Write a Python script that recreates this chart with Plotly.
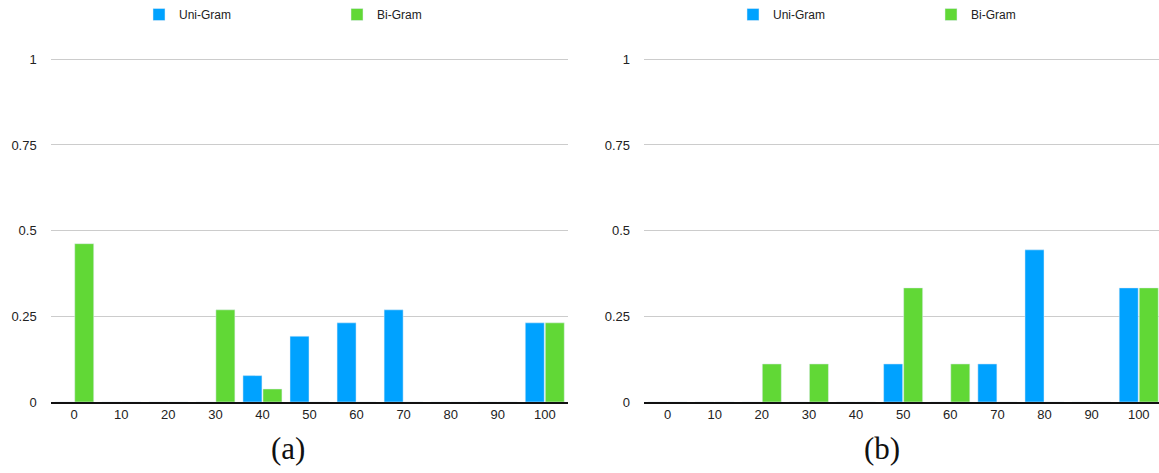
import plotly.graph_objects as go

# Percent bins shared by both panels
bins = ["0", "10", "20", "30", "40", "50", "60", "70", "80", "90", "100"]

# Panel (a)
uni_a = [0, 0, 0, 0, 0.077, 0.192, 0.231, 0.269, 0, 0, 0.231]
bi_a = [0.462, 0, 0, 0.269, 0.038, 0, 0, 0, 0, 0, 0.231]

# Panel (b)
uni_b = [0, 0, 0, 0, 0, 0.111, 0, 0.111, 0.444, 0, 0.333]
bi_b = [0, 0, 0.111, 0.111, 0, 0.333, 0.111, 0, 0, 0, 0.333]

y_ticks = [0, 0.25, 0.5, 0.75, 1]
y_tick_text = ["0", "0.25", "0.5", "0.75", "1"]

BLUE = "#00A2FF"
GREEN = "#61D836"
W, H = 1159, 473

fig = go.Figure()

fig.add_trace(go.Bar(x=bins, y=uni_a, name="Uni-Gram", marker_color=BLUE,
                     xaxis="x", yaxis="y", legend="legend"))
fig.add_trace(go.Bar(x=bins, y=bi_a, name="Bi-Gram", marker_color=GREEN,
                     xaxis="x", yaxis="y", legend="legend"))
fig.add_trace(go.Bar(x=bins, y=uni_b, name="Uni-Gram", marker_color=BLUE,
                     xaxis="x2", yaxis="y2", legend="legend2"))
fig.add_trace(go.Bar(x=bins, y=bi_b, name="Bi-Gram", marker_color=GREEN,
                     xaxis="x2", yaxis="y2", legend="legend2"))

tick_font = dict(family="Liberation Sans, Arial, sans-serif", size=13, color="#222")
y_bottom = (H - 402) / H
y_top = (H - 57.6) / H

xcommon = dict(type="category", showgrid=False, zeroline=False,
               showline=True, linecolor="#111", linewidth=1.5,
               ticks="", tickfont=tick_font, fixedrange=True)
ycommon = dict(range=[0, 1.005], tickvals=y_ticks, ticktext=y_tick_text,
               showgrid=True, gridcolor="#cccccc", gridwidth=1,
               zeroline=False, showline=False, ticks="",
               tickfont=tick_font, ticklabelstandoff=13,
               domain=[y_bottom, y_top], fixedrange=True)

legend_font = dict(family="Liberation Sans, Arial, sans-serif", size=12, color="#222")
legend_common = dict(orientation="h", font=legend_font, bgcolor="rgba(0,0,0,0)",
                     entrywidth=153, entrywidthmode="pixels",
                     yanchor="middle", y=(H - 14.5) / H, xanchor="left",
                     traceorder="normal", itemclick=False, itemdoubleclick=False)

fig.update_layout(
    width=W, height=H,
    margin=dict(l=0, r=0, t=0, b=0, autoexpand=False),
    paper_bgcolor="white", plot_bgcolor="white",
    barmode="group", bargap=0.15, bargroupgap=0.05,
    xaxis=dict(xcommon, domain=[50.7 / W, 568.3 / W], range=[-0.5, 10.5], anchor="y"),
    yaxis=dict(ycommon, anchor="x"),
    xaxis2=dict(xcommon, domain=[644 / W, 1.0], range=[-0.5, 10.43], anchor="y2"),
    yaxis2=dict(ycommon, anchor="x2"),
    legend=dict(legend_common, x=139 / W),
    legend2=dict(legend_common, x=733 / W),
    showlegend=True,
)

caption_font = dict(family="Liberation Serif, Times New Roman, serif", size=31, color="#111")
fig.add_annotation(text="(a)", x=287.5 / W, y=(H - 448.5) / H, xref="paper", yref="paper",
                   showarrow=False, font=caption_font, xanchor="center", yanchor="middle")
fig.add_annotation(text="(b)", x=882 / W, y=(H - 448.5) / H, xref="paper", yref="paper",
                   showarrow=False, font=caption_font, xanchor="center", yanchor="middle")

fig.write_html("out.html")
